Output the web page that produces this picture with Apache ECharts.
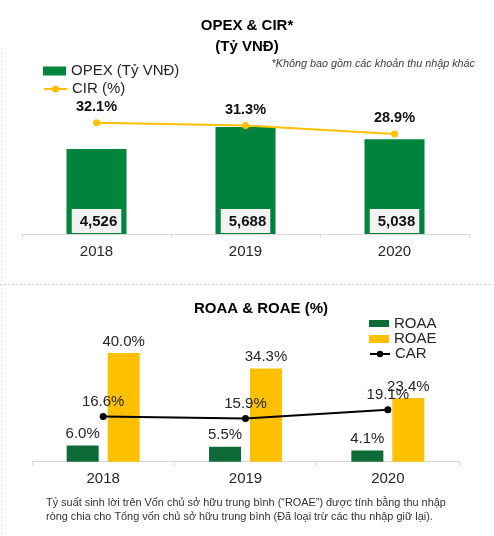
<!DOCTYPE html>
<html>
<head>
<meta charset="utf-8">
<script src="https://cdn.jsdelivr.net/npm/echarts@6/dist/echarts.min.js"></script>
<style>
html,body{margin:0;padding:0;background:#fff;}
#c{width:494px;height:536px;}
</style>
</head>
<body>
<div id="c"></div>
<script>
const years = ['2018', '2019', '2020'];
const opex = [4526, 5688, 5038];
const cir = [32.1, 31.3, 28.9];
const roaa = [6.0, 5.5, 4.1];
const roae = [40.0, 34.3, 23.4];
const car = [16.6, 15.9, 19.1];

const FONT = '"Liberation Sans", Arial, sans-serif';
const chart = echarts.init(document.getElementById('c'));

const catAxis = (gi) => ({
  type: 'category', gridIndex: gi, data: years,
  axisLine: { lineStyle: { color: '#d9d9d9', width: 1 } },
  axisTick: { show: true, length: 4, lineStyle: { color: '#d9d9d9' } },
  axisLabel: { fontFamily: FONT, fontSize: 15, color: '#262626', margin: 10 }
});
const valAxis = (gi, max) => ({
  type: 'value', gridIndex: gi, min: 0, max: max, show: false,
  splitLine: { show: false }
});

chart.setOption({
  backgroundColor: '#fff',
  animation: false,
  textStyle: { fontFamily: FONT },
  title: [
    { text: 'OPEX & CIR*\n(Tỷ VNĐ)', left: 247, top: 15.5, textAlign: 'center', padding: 0,
      textStyle: { fontFamily: FONT, fontSize: 15, fontWeight: 'bold', color: '#000', lineHeight: 21 } },
    { text: '*Không bao gồm các khoản thu nhập khác', right: 19, top: 58, padding: 0,
      textStyle: { fontFamily: FONT, fontSize: 10.8, fontStyle: 'italic', fontWeight: 'normal', color: '#404040' } },
    { text: 'ROAA & ROAE (%)', left: 261, top: 300, textAlign: 'center', padding: 0,
      textStyle: { fontFamily: FONT, fontSize: 15, fontWeight: 'bold', color: '#000', lineHeight: 18 } },
    { text: 'Tỷ suất sinh lời trên Vốn chủ sở hữu trung bình (“ROAE”) được tính bằng thu nhập\nròng chia cho Tổng vốn chủ sở hữu trung bình (Đã loại trừ các thu nhập giữ lại).',
      left: 46, top: 496, padding: 0,
      textStyle: { fontFamily: FONT, fontSize: 10.9, fontWeight: 'normal', color: '#333', lineHeight: 14 } }
  ],
  legend: [
    { data: [{ name: 'OPEX (Tỷ VNĐ)', icon: 'rect' }], left: 43, top: 63.5, padding: 0, itemWidth: 23, itemHeight: 9,
      textStyle: { fontFamily: FONT, fontSize: 15, color: '#262626' } },
    { data: ['CIR (%)'], left: 43, top: 81.5, padding: 0, itemWidth: 23, itemHeight: 9,
      textStyle: { fontFamily: FONT, fontSize: 15, color: '#262626' } },
    { data: [{ name: 'ROAA', icon: 'rect' }], left: 369, top: 316, padding: 0, itemWidth: 20, itemHeight: 7,
      textStyle: { fontFamily: FONT, fontSize: 15, color: '#262626' } },
    { data: [{ name: 'ROAE', icon: 'rect' }], left: 369, top: 331.5, padding: 0, itemWidth: 20, itemHeight: 8,
      textStyle: { fontFamily: FONT, fontSize: 15, color: '#262626' } },
    { data: ['CAR'], left: 369, top: 346.5, padding: 0, itemWidth: 20, itemHeight: 8,
      textStyle: { fontFamily: FONT, fontSize: 15, color: '#262626' } }
  ],
  grid: [
    { left: 22, right: 25, top: 102.4, height: 131.6, containLabel: false },
    { left: 32, right: 35, top: 339.3, height: 122.4, containLabel: false }
  ],
  xAxis: [catAxis(0), catAxis(1)],
  yAxis: [valAxis(0, 7000), valAxis(0, 38), valAxis(1, 45)],
  graphic: [
    { type: 'line', shape: { x1: 0, y1: 284.5, x2: 490, y2: 284.5 }, silent: true,
      style: { stroke: '#cfcfcf', lineWidth: 1, lineDash: [2, 2] } },
    { type: 'line', shape: { x1: 1.5, y1: 48, x2: 1.5, y2: 536 }, silent: true,
      style: { stroke: '#e2e2e2', lineWidth: 1, lineDash: [2, 2] } }
  ],
  series: [
    { name: 'OPEX (Tỷ VNĐ)', type: 'bar', xAxisIndex: 0, yAxisIndex: 0, data: opex,
      barWidth: 60, itemStyle: { color: '#00843D' },
      label: { show: true, position: 'insideBottom', distance: 1,
        formatter: (p) => p.value.toLocaleString('en-US'),
        backgroundColor: '#f2f2f2', padding: [5, 4, 4, 8],
        fontFamily: FONT, fontSize: 15, fontWeight: 'bold', color: '#111' } },
    { name: 'CIR (%)', type: 'line', xAxisIndex: 0, yAxisIndex: 1, data: cir,
      symbol: 'circle', symbolSize: 7, lineStyle: { color: '#FFC000', width: 2 },
      itemStyle: { color: '#FFC000' },
      label: { show: true, position: 'top', distance: 5, formatter: (p) => p.value.toFixed(1) + '%',
        fontFamily: FONT, fontSize: 14.5, fontWeight: 'bold', color: '#111' } },
    { name: 'ROAA', type: 'bar', xAxisIndex: 1, yAxisIndex: 2, data: roaa,
      barWidth: 32, barGap: '28%', itemStyle: { color: '#0E6B38' },
      label: { show: true, position: 'top', distance: 4, formatter: (p) => p.value.toFixed(1) + '%',
        fontFamily: FONT, fontSize: 15, color: '#262626' } },
    { name: 'ROAE', type: 'bar', xAxisIndex: 1, yAxisIndex: 2, data: roae,
      barWidth: 32, barGap: '28%', itemStyle: { color: '#FFC000' },
      label: { show: true, position: 'top', distance: 4, formatter: (p) => p.value.toFixed(1) + '%',
        fontFamily: FONT, fontSize: 15, color: '#262626' } },
    { name: 'CAR', type: 'line', xAxisIndex: 1, yAxisIndex: 2, data: car,
      symbol: 'circle', symbolSize: 7, lineStyle: { color: '#000', width: 2 },
      itemStyle: { color: '#000' }, z: 5,
      label: { show: true, position: 'top', distance: 4, formatter: (p) => p.value.toFixed(1) + '%',
        fontFamily: FONT, fontSize: 15, color: '#262626' } }
  ]
});
</script>
</body>
</html>
